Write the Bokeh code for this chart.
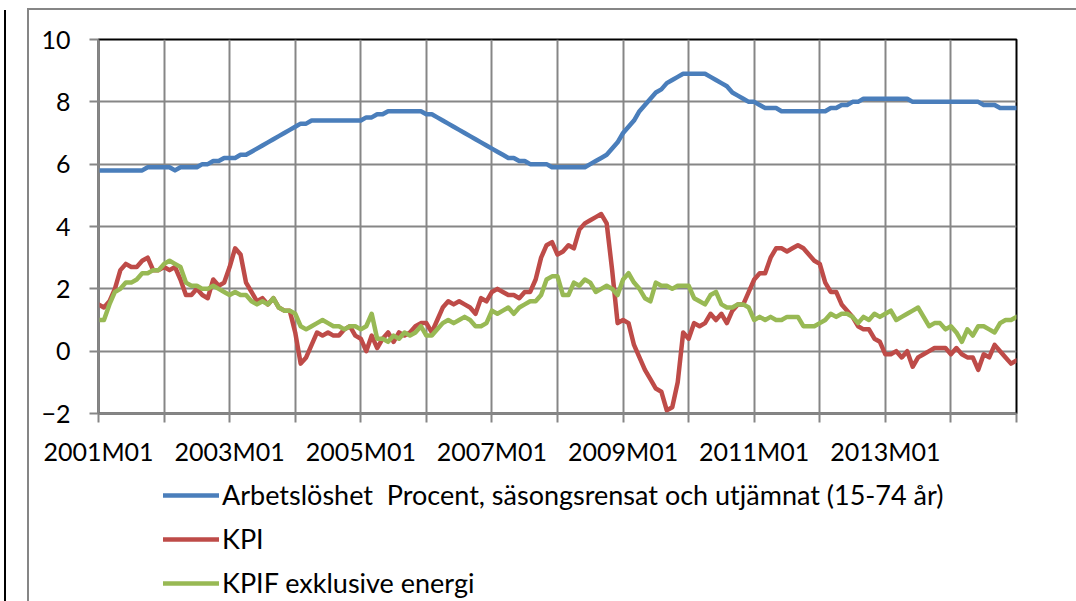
from bokeh.plotting import figure
from bokeh.layouts import column
from bokeh.models import Range1d, FixedTicker, Legend, LegendItem, Label, InlineStyleSheet
from bokeh.embed import file_html
from bokeh.resources import INLINE

# ---- data: monthly, 2001M01 .. 2015M01 ----
months = list(range(169))

unemployment = [
    5.8, 5.8, 5.8, 5.8, 5.8, 5.8, 5.8, 5.8, 5.8, 5.9, 5.9, 5.9,
    5.9, 5.9, 5.8, 5.9, 5.9, 5.9, 5.9, 6.0, 6.0, 6.1, 6.1, 6.2,
    6.2, 6.2, 6.3, 6.3, 6.4, 6.5, 6.6, 6.7, 6.8, 6.9, 7.0, 7.1,
    7.2, 7.3, 7.3, 7.4, 7.4, 7.4, 7.4, 7.4, 7.4, 7.4, 7.4, 7.4,
    7.4, 7.5, 7.5, 7.6, 7.6, 7.7, 7.7, 7.7, 7.7, 7.7, 7.7, 7.7,
    7.6, 7.6, 7.5, 7.4, 7.3, 7.2, 7.1, 7.0, 6.9, 6.8, 6.7, 6.6,
    6.5, 6.4, 6.3, 6.2, 6.2, 6.1, 6.1, 6.0, 6.0, 6.0, 6.0, 5.9,
    5.9, 5.9, 5.9, 5.9, 5.9, 5.9, 6.0, 6.1, 6.2, 6.3, 6.5, 6.7,
    7.0, 7.2, 7.4, 7.7, 7.9, 8.1, 8.3, 8.4, 8.6, 8.7, 8.8, 8.9,
    8.9, 8.9, 8.9, 8.9, 8.8, 8.7, 8.6, 8.5, 8.3, 8.2, 8.1, 8.0,
    8.0, 7.9, 7.8, 7.8, 7.8, 7.7, 7.7, 7.7, 7.7, 7.7, 7.7, 7.7,
    7.7, 7.7, 7.8, 7.8, 7.9, 7.9, 8.0, 8.0, 8.1, 8.1, 8.1, 8.1,
    8.1, 8.1, 8.1, 8.1, 8.1, 8.0, 8.0, 8.0, 8.0, 8.0, 8.0, 8.0,
    8.0, 8.0, 8.0, 8.0, 8.0, 8.0, 7.9, 7.9, 7.9, 7.8, 7.8, 7.8,
    7.8,
]

kpi = [
    1.5, 1.4, 1.6, 2.0, 2.6, 2.8, 2.7, 2.7, 2.9, 3.0, 2.6, 2.6,
    2.7, 2.6, 2.7, 2.3, 1.8, 1.8, 2.0, 1.8, 1.7, 2.3, 2.1, 2.2,
    2.7, 3.3, 3.1, 2.2, 1.9, 1.6, 1.7, 1.5, 1.7, 1.4, 1.3, 1.3,
    0.6, -0.4, -0.2, 0.2, 0.6, 0.5, 0.6, 0.5, 0.5, 0.7, 0.8, 0.5,
    0.4, 0.0, 0.5, 0.1, 0.4, 0.6, 0.3, 0.6, 0.5, 0.6, 0.8, 0.9,
    0.9, 0.6, 1.0, 1.4, 1.6, 1.5, 1.6, 1.5, 1.4, 1.2, 1.7, 1.6,
    1.9, 2.0, 1.9, 1.8, 1.8, 1.7, 1.9, 1.9, 2.3, 3.0, 3.4, 3.5,
    3.1, 3.2, 3.4, 3.3, 3.9, 4.1, 4.2, 4.3, 4.4, 4.1, 2.6, 0.9,
    1.0, 0.9, 0.2, -0.2, -0.6, -0.9, -1.2, -1.3, -1.9, -1.8, -1.0, 0.6,
    0.4, 0.9, 0.8, 0.9, 1.2, 1.0, 1.2, 0.9, 1.3, 1.5, 1.5, 1.9,
    2.3, 2.5, 2.5, 3.0, 3.3, 3.3, 3.2, 3.3, 3.4, 3.3, 3.1, 2.9,
    2.8, 2.2, 1.9, 1.9, 1.5, 1.3, 1.1, 0.8, 0.7, 0.7, 0.4, 0.3,
    -0.1, -0.1, 0.0, -0.2, 0.0, -0.5, -0.2, -0.1, 0.0, 0.1, 0.1, 0.1,
    -0.1, 0.1, -0.1, -0.2, -0.2, -0.6, -0.1, -0.2, 0.2, 0.0, -0.2, -0.4,
    -0.3,
]

kpif_xe = [
    1.0, 1.0, 1.5, 1.9, 2.0, 2.2, 2.2, 2.3, 2.5, 2.5, 2.6, 2.6,
    2.8, 2.9, 2.8, 2.7, 2.2, 2.1, 2.1, 2.0, 2.0, 2.1, 2.0, 1.9,
    1.8, 1.9, 1.8, 1.8, 1.6, 1.5, 1.6, 1.5, 1.7, 1.4, 1.3, 1.3,
    1.2, 0.8, 0.7, 0.8, 0.9, 1.0, 0.9, 0.8, 0.8, 0.7, 0.8, 0.8,
    0.7, 0.8, 1.2, 0.4, 0.4, 0.3, 0.5, 0.4, 0.6, 0.5, 0.6, 0.8,
    0.5, 0.5, 0.7, 0.9, 1.0, 0.9, 1.0, 1.1, 1.0, 0.8, 0.8, 0.9,
    1.3, 1.2, 1.3, 1.4, 1.2, 1.4, 1.5, 1.6, 1.6, 1.8, 2.3, 2.4,
    2.4, 1.8, 1.8, 2.2, 2.1, 2.3, 2.2, 1.9, 2.0, 2.1, 2.0, 1.8,
    2.3, 2.5, 2.2, 2.0, 1.7, 1.6, 2.2, 2.1, 2.1, 2.0, 2.1, 2.1,
    2.1, 1.7, 1.6, 1.5, 1.8, 1.9, 1.5, 1.4, 1.4, 1.5, 1.5, 1.4,
    1.0, 1.1, 1.0, 1.1, 1.0, 1.0, 1.1, 1.1, 1.1, 0.8, 0.8, 0.8,
    0.9, 1.0, 1.2, 1.1, 1.2, 1.2, 1.1, 0.9, 1.1, 1.0, 1.2, 1.1,
    1.2, 1.3, 1.0, 1.1, 1.2, 1.3, 1.4, 1.1, 0.8, 0.9, 0.9, 0.7,
    0.8, 0.6, 0.3, 0.7, 0.5, 0.8, 0.8, 0.7, 0.6, 0.9, 1.0, 1.0,
    1.1,
]

series = [unemployment, kpi, kpif_xe]
series_names = [
    "Arbetslöshet  Procent, säsongsrensat och utjämnat (15-74 år)",
    "KPI",
    "KPIF exklusive energi",
]
series_colors = ["#4A7EBB", "#BE4B48", "#98B954"]

y_ticks = [-2, 0, 2, 4, 6, 8, 10]
x_ticks = list(range(0, 169, 12))
x_tick_labels = {
    m: (f"{2001 + m // 12}M01" if (m // 12) % 2 == 0 and m < 168 else "")
    for m in x_ticks
}
title_text = "Diagram 4.1: Inflation och arbetslöshet"

FONT = "Lato"
GRID = "#868686"
LINE_W = 4.5

page_css = InlineStyleSheet(css="""
:host::before {
  content: ""; position: absolute; left: 27px; top: 8px; width: 1049px; height: 593px;
  border-left: 2px solid #868686; border-top: 2px solid #868686;
  box-sizing: border-box; pointer-events: none; z-index: 5;
}
:host::after {
  content: ""; position: absolute; left: 4px; top: 10px; width: 2px; height: 591px;
  background: #000000; pointer-events: none; z-index: 5;
}
""")

W = 1076
H_CHART = 470
H_LEGEND = 131

# ---------------- main chart ----------------
p = figure(
    width=W, height=H_CHART,
    x_range=Range1d(0, 168), y_range=Range1d(-2, 10),
    output_backend="svg", toolbar_location=None,
    min_border_left=98, min_border_right=60,
    min_border_top=39, min_border_bottom=H_CHART - 413,
    background_fill_color="white", border_fill_color="white",
)
p.outline_line_color = "black"
p.outline_line_width = 2

for ax in (p.xaxis[0], p.yaxis[0]):
    ax.axis_line_color = GRID
    ax.axis_line_width = 2
    ax.major_tick_line_color = GRID
    ax.major_tick_line_width = 2
    ax.major_tick_out = 9
    ax.major_tick_in = 0
    ax.minor_tick_line_color = None
    ax.major_label_text_font = FONT
    ax.major_label_text_font_size = "25px"
    ax.major_label_text_color = "black"

p.xaxis.ticker = FixedTicker(ticks=x_ticks)
p.xaxis.major_label_overrides = x_tick_labels
p.xaxis.major_label_standoff = 13
p.yaxis.ticker = FixedTicker(ticks=y_ticks)
p.yaxis.major_label_standoff = 19

p.xgrid.ticker = FixedTicker(ticks=x_ticks)
p.ygrid.ticker = FixedTicker(ticks=y_ticks)
for g in (p.xgrid[0], p.ygrid[0]):
    g.grid_line_color = GRID
    g.grid_line_width = 2

for vals, col in zip(series, series_colors):
    p.line(months, vals, line_color=col, line_width=LINE_W,
           line_join="round", line_cap="round")

# page heading, cut off by the top edge as in the original
p.add_layout(Label(x=-73, y=406, x_units="screen", y_units="screen",
                   text=title_text, text_font=FONT, text_font_size="28px",
                   text_font_style="bold",
                   text_color="#4F81BD", text_baseline="alphabetic"))

# ---------------- legend strip (series drawn out of view, only keys show) ----------------
pl = figure(
    width=W, height=H_LEGEND, title=None,
    x_range=Range1d(0, 168), y_range=Range1d(100, 101),
    x_axis_location=None, y_axis_location=None,
    output_backend="svg", toolbar_location=None,
    min_border_left=0, min_border_right=0, min_border_top=0, min_border_bottom=0,
    background_fill_color="white", border_fill_color="white",
)
pl.outline_line_color = None
pl.grid.visible = False
legend_renderers = [
    pl.line(months, vals, line_color=col, line_width=LINE_W, line_cap="round")
    for vals, col in zip(series, series_colors)
]
legend = Legend(
    items=[LegendItem(label=n, renderers=[r]) for n, r in zip(series_names, legend_renderers)],
    location=(65, 2),
    orientation="vertical",
    glyph_width=56, glyph_height=32, label_height=32,
    label_standoff=3, spacing=11, padding=0, margin=0,
    border_line_color=None, background_fill_alpha=0,
    label_text_font=FONT, label_text_font_size="27px", label_text_color="black",
)
pl.add_layout(legend, "center")

layout = column(p, pl, spacing=0, stylesheets=[page_css])

open("out.html", "w").write(file_html(layout, INLINE))
